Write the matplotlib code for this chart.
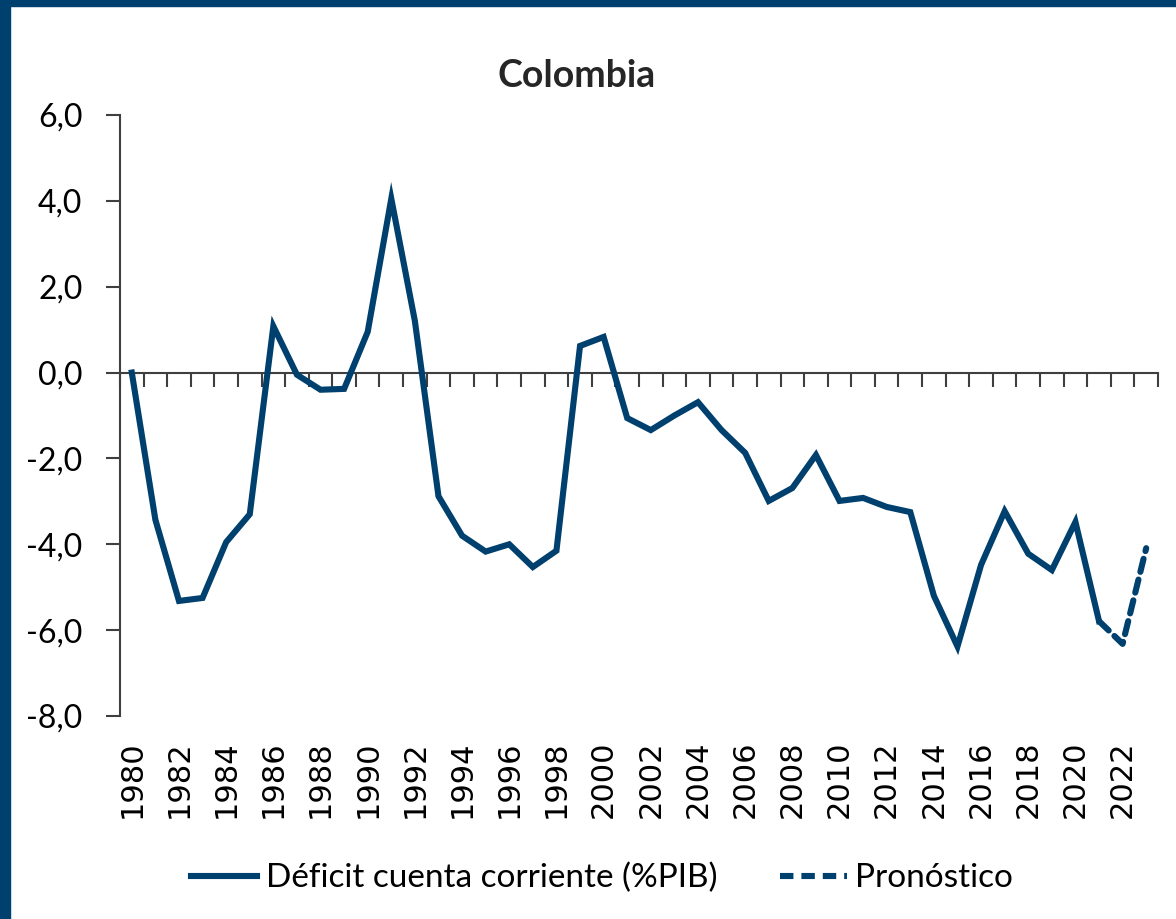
import numpy as np
import matplotlib.pyplot as plt
from matplotlib.patches import Rectangle
from matplotlib.lines import Line2D
import matplotlib.transforms as mtransforms

plt.rcParams['font.family'] = ['Lato', 'DejaVu Sans']

# Current account deficit (% of GDP)
years = np.arange(1980, 2022)
deficit = [0.0, -3.43, -5.32, -5.25, -3.95, -3.3, 1.08, -0.05, -0.4, -0.38,
           0.95, 4.05, 1.2, -2.88, -3.8, -4.17, -4.0, -4.53, -4.15, 0.62,
           0.83, -1.06, -1.34, -1.0, -0.69, -1.34, -1.87, -2.99, -2.69, -1.92,
           -2.99, -2.92, -3.13, -3.25, -5.2, -6.38, -4.48, -3.23, -4.22, -4.6,
           -3.48, -5.79]
fc_years = [2021, 2022, 2023]
forecast = [-5.79, -6.32, -4.09]
yticks = [6, 4, 2, 0, -2, -4, -6, -8]

blue = '#00406e'
axis_col = '#3f3f3f'

fig = plt.figure(figsize=(11.76, 9.19), dpi=100)
# dark blue frame on left and top
fig.patches.append(Rectangle((0, 0), 10 / 1176, 1, transform=fig.transFigure, color=blue, zorder=0))
fig.patches.append(Rectangle((0, 1 - 6 / 919), 1, 6 / 919, transform=fig.transFigure, color=blue, zorder=0))

ax = fig.add_axes([120 / 1176, 1 - 716 / 919, (1158 - 120) / 1176, (716 - 115) / 919])
ax.plot(years, deficit, color=blue, lw=4.4, solid_joinstyle='miter', zorder=3)
ax.plot(fc_years, forecast, color=blue, lw=4.4, ls=(0, (2.2, 1.3)), dash_capstyle='round', zorder=3)

ax.set_xlim(1979.5, 2023.5)
ax.set_ylim(-8, 6)
ax.set_yticks(yticks)
ax.set_yticklabels([f'{v:.1f}'.replace('.', ',') for v in yticks], fontsize=23)
ax.tick_params(axis='y', direction='out', length=10, width=1.5, color=axis_col, pad=17)

ax.spines['top'].set_visible(False)
ax.spines['right'].set_visible(False)
ax.spines['left'].set_color(axis_col)
ax.spines['left'].set_linewidth(1.5)
ax.spines['bottom'].set_position(('data', 0))
ax.spines['bottom'].set_color(axis_col)
ax.spines['bottom'].set_linewidth(1.5)
ax.set_xticks(np.arange(1979.5, 2024, 1))
ax.set_xticklabels([])
ax.tick_params(axis='x', direction='out', length=10, width=1.5, color=axis_col)

trans = mtransforms.blended_transform_factory(ax.transData, ax.transAxes)
for yr in range(1980, 2023, 2):
    ax.text(yr, -0.04, str(yr), transform=trans, rotation=90, ha='center', va='top',
            fontsize=22, family=['Liberation Sans Narrow', 'DejaVu Sans'])

fig.text(577 / 1176, 1 - 76 / 919, 'Colombia', ha='center', va='center',
         fontsize=27, fontweight='bold', color='#262626')

handles = [Line2D([], [], color=blue, lw=4.4),
           Line2D([], [], color=blue, lw=4.4, ls=(0, (2.2, 1.3)))]
fig.legend(handles, ['Déficit cuenta corriente (%PIB)', 'Pronóstico'],
           loc='center', bbox_to_anchor=(602 / 1176, 1 - 878 / 919), ncol=2,
           frameon=False, fontsize=24, handlelength=2.0, handletextpad=0.25,
           columnspacing=1.9)

fig.savefig('out.png', dpi=100)
